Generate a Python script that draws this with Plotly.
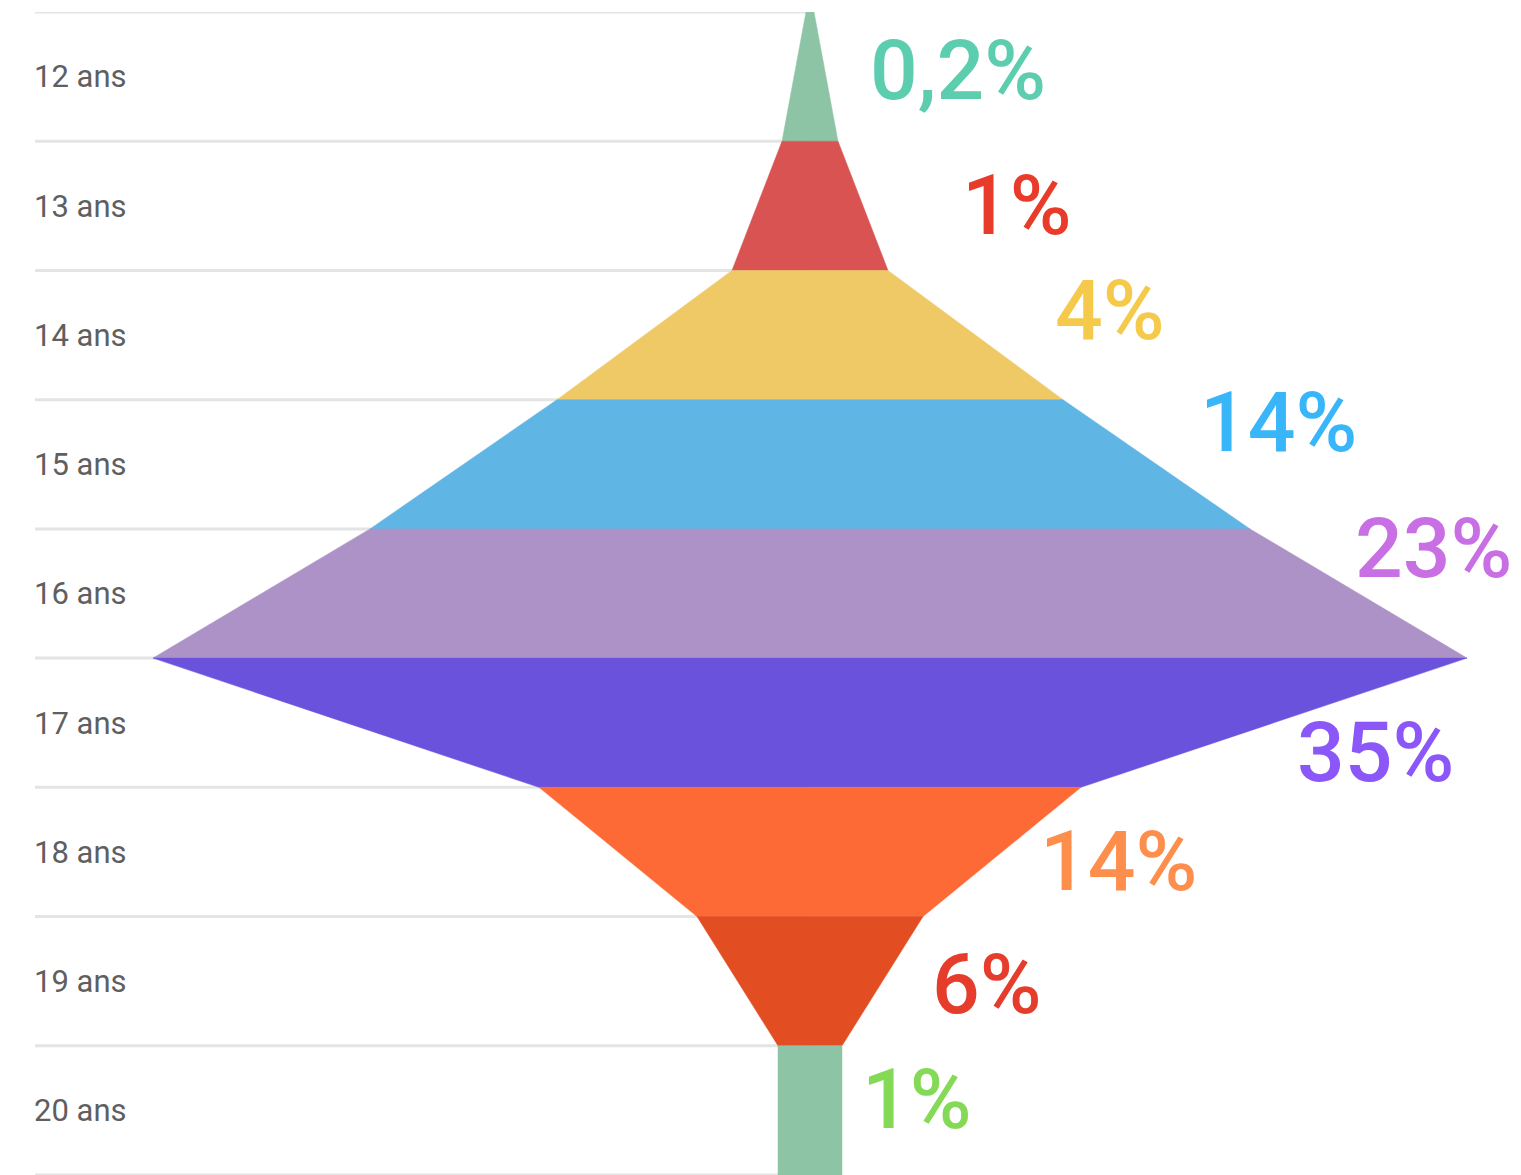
import plotly.graph_objects as go

# ---- data ----
ages = ["12 ans", "13 ans", "14 ans", "15 ans", "16 ans", "17 ans", "18 ans", "19 ans", "20 ans"]
pct_labels = ["0,2%", "1%", "4%", "14%", "23%", "35%", "14%", "6%", "1%"]
# half-width of the shape at each row boundary (top of 12 ans ... bottom of 20 ans)
boundary_halfwidth = [4, 28, 78, 253, 440, 657, 271, 113, 32, 32]

# ---- styles ----
band_colors = ["#8ec4a6", "#d95353", "#eec966", "#5fb5e4", "#ac92c7",
               "#6b52dc", "#fd6a35", "#e34d22", "#8ec4a6"]
label_colors = ["#5ccdae", "#e83b2a", "#f5c94a", "#39b6f9", "#c86fe3",
                "#8c57f8", "#fe8e4c", "#e53c2c", "#84d957"]
# label placement (x offset from centre, y in row units)
label_x = [58, 150, 243, 388, 543, 485, 228, 120, 50]
label_y = [0.45, 1.495, 2.31, 3.175, 4.15, 5.73, 6.572, 7.525, 8.415]

X_MIN, X_MAX = -775, 711
n = len(ages)

fig = go.Figure()

# gridlines on the left half only
gx, gy = [], []
for i in range(n + 1):
    gx += [X_MIN, 0, None]
    gy += [i, i, None]
fig.add_trace(go.Scatter(x=gx, y=gy, mode="lines",
                         line=dict(color="#e4e4e4", width=3),
                         hoverinfo="skip", showlegend=False))

for i in range(n):
    w0, w1 = boundary_halfwidth[i], boundary_halfwidth[i + 1]
    fig.add_trace(go.Scatter(
        x=[-w0, w0, w1, -w1, -w0],
        y=[i, i, i + 1, i + 1, i],
        mode="lines", fill="toself",
        fillcolor=band_colors[i],
        line=dict(color=band_colors[i], width=0.5),
        name=ages[i], showlegend=False, hoverinfo="name"))

for i in range(n):
    fig.add_annotation(x=label_x[i], y=label_y[i], text=pct_labels[i],
                       xanchor="left", yanchor="middle", showarrow=False,
                       font=dict(family="Roboto", size=84, color=label_colors[i], weight=500))

fig.update_layout(
    width=1513, height=1167,
    margin=dict(l=27, r=0, t=4, b=0),
    plot_bgcolor="white", paper_bgcolor="white",
    xaxis=dict(range=[X_MIN, X_MAX], visible=False, fixedrange=True),
    yaxis=dict(range=[n, 0], tickvals=[i + 0.5 for i in range(n)], ticktext=ages,
               ticklabelposition="inside", ticklabelstandoff=-4,
               showgrid=False, zeroline=False, showline=False, ticks="",
               tickfont=dict(family="Roboto", size=31, color="#5f5f5f")),
)

fig.write_html("out.html")
